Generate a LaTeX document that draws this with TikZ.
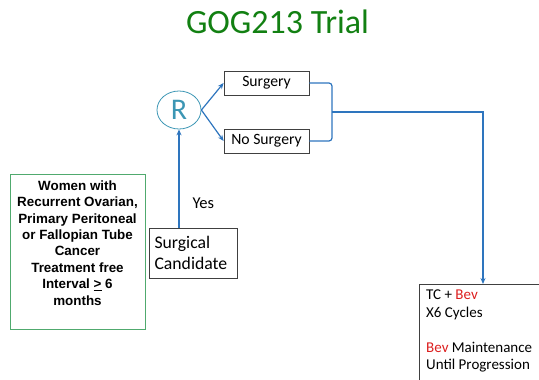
\documentclass[tikz,border=0pt]{standalone}
\usepackage{fontspec}
\setmainfont{Carlito}
\newfontfamily\arialfont{Liberation Sans}
\usetikzlibrary{arrows.meta,shapes.geometric}
\definecolor{titlegreen}{RGB}{18,128,18}
\definecolor{boxgreen}{RGB}{80,170,110}
\definecolor{linkblue}{RGB}{46,117,190}
\definecolor{circteal}{RGB}{60,150,180}
\definecolor{bevred}{RGB}{220,30,30}
\tikzset{
  plainbox/.style={draw=black!75, line width=0.8pt, inner sep=0pt},
  link/.style={draw=linkblue, line width=1.2pt},
  linkarrow/.style={link, -{Stealth[length=6pt,width=5pt]}},
}
\begin{document}
\begin{tikzpicture}[x=1pt,y=-1pt]
\useasboundingbox (0,0) rectangle (539,380);
\node[font=\fontsize{34}{38}\selectfont, text=titlegreen, anchor=base] (title) at (277.5,34) {GOG213 Trial};
\node[draw=circteal, line width=0.8pt, ellipse, minimum width=44pt, minimum height=38pt, inner sep=0pt, text=circteal, font=\fontsize{30}{32}\selectfont] (r) at (179,110) {R};
\node[plainbox, minimum width=85pt, minimum height=24pt, font=\fontsize{15.7}{17}\selectfont] (surg) at (266.5,83) {Surgery};
\node[plainbox, minimum width=85pt, minimum height=24pt, font=\fontsize{15.7}{17}\selectfont] (nosurg) at (266.5,141) {No Surgery};
\draw[linkarrow] (r.east) -- (surg.west);
\draw[linkarrow] (r.east) -- (nosurg.west);
\coordinate (bj) at (332,112);
\draw[link, rounded corners=3pt] (surg.east) -- (332,83) -- (332,141) -- (nosurg.east);
\node[draw=boxgreen, line width=0.8pt, minimum width=135pt, minimum height=155pt, inner sep=0pt] (women) at (77.5,251.5) {};
\node[font=\arialfont\bfseries\fontsize{13.4}{16.4}\selectfont, align=center, anchor=north] (womentxt) at (77.5,177) {Women with\\Recurrent Ovarian,\\Primary Peritoneal\\or Fallopian Tube\\Cancer\\Treatment free\\Interval \underline{>} 6\\months};
\node[plainbox, minimum width=88pt, minimum height=50pt] (cand) at (193,253) {};
\node[font=\fontsize{17.7}{21.5}\selectfont, align=left, anchor=west] (candtxt) at (151,253) {Surgical\\Candidate};
\draw[linkarrow] (cand.north -| r.south) -- (r.south);
\node[font=\fontsize{16.5}{18}\selectfont, anchor=base west] (yes) at (189,208) {Yes};
\node[plainbox, anchor=north west, minimum width=140pt, minimum height=110pt] (treat) at (419,284) {};
\node[font=\fontsize{15}{17.4}\selectfont, align=left, anchor=north west, inner sep=0pt] (treattxt) at (426,290) {TC + \textcolor{bevred}{Bev}\\X6 Cycles\\[17.4pt]\textcolor{bevred}{Bev} Maintenance\\Until Progression};
\draw[linkarrow] (bj) -- (483,112) -- (treat.north -| 483,0);
\end{tikzpicture}
\end{document}
